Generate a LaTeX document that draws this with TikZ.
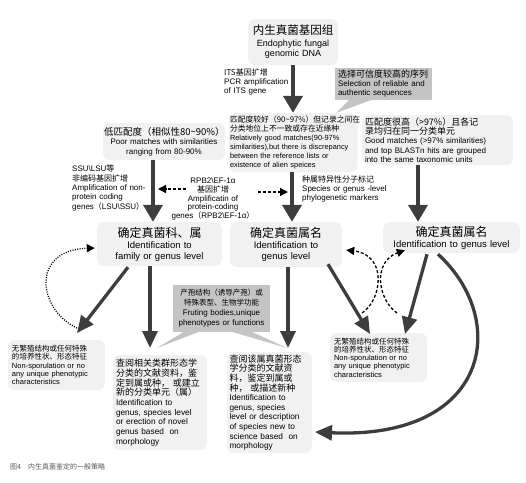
\documentclass[tikz,border=0pt]{standalone}
\usepackage{fontspec}
\setmainfont{Liberation Sans}
\newfontfamily\zhfont{Noto Sans CJK SC}
\usetikzlibrary{arrows.meta,calc}
\definecolor{boxfill}{HTML}{F1F1F1}
\definecolor{callfill}{HTML}{C4C4C4}
\definecolor{arr}{HTML}{3D3D3D}
\newcommand\fsz[2]{\fontsize{#1}{#2}\selectfont}
\hyphenpenalty=10000
\exhyphenpenalty=10000
\begin{document}
\begin{tikzpicture}[x=1pt,y=-1pt,
  box/.style={fill=boxfill, rounded corners=7pt, inner sep=0pt},
  callbox/.style={fill=callfill, inner sep=0pt},
  lbl/.style={inner sep=0pt, anchor=north west, align=left},
  bigarrow/.style={draw=arr, line width=4pt, -{Triangle[length=17pt,width=19pt]}},
  midarrow/.style={draw=arr, line width=3.3pt, -{Triangle[length=17pt,width=15pt]}},
  dasharrow/.style={draw=black, line width=1.3pt, dash pattern=on 3pt off 2pt, -{Triangle[length=8pt,width=8pt]}},
  dotarrow/.style={draw=black, line width=1.3pt, dash pattern=on 1pt off 1.4pt, -{Triangle[length=8pt,width=8pt]}}
]
\useasboundingbox (0,0) rectangle (526,482);

% top box
\node[box, minimum width=90, minimum height=46, text width=88, align=center, font=\fsz{9}{10}] (top) at (293,42)
  {{\zhfont\fsz{11.5}{12}内生真菌基因组}\\[2pt]Endophytic fungal\\genomic DNA};
\node[lbl, text width=75, font=\fsz{8}{9}] (its) at (224,69)
  {{\zhfont ITS基因扩增}\\PCR amplification\\of ITS gene};
% selection callout
\fill[callfill] (350,99) -- (374,99) -- (336,113) -- cycle;
\node[callbox, minimum width=97, minimum height=32, text width=91, align=left, font=\fsz{8}{9}] (sel) at (383.5,84)
  {{\zhfont\fsz{9}{10}选择可信度较高的序列}\\Selection of reliable and\\authentic sequences};

% three match boxes
\node[box, minimum width=122, minimum height=37, text width=120, align=center, font=\fsz{8}{9.5}] (low) at (164,141.5)
  {{\zhfont\fsz{9.5}{10}低匹配度（相似性80\textasciitilde90\%）}\\Poor matches with similarities\\ranging from 80-90\%};
\node[box, minimum width=129, minimum height=59, text width=126, align=left, font=\fsz{7.4}{8.9}] (mid) at (293,142.5)
  {{\zhfont\fsz{7.8}{8.9}匹配度较好（90\textasciitilde97\%）但记录之间在}\\{\zhfont\fsz{7.8}{8.9}分类地位上不一致或存在近缘种}\\Relatively good matches(90-97\%\\similarities),but there is discrepancy\\between the reference lists or\\existence of alien speices};
\node[box, minimum width=151, minimum height=50, text width=145, align=left, font=\fsz{8}{9.2}] (high) at (437.5,140)
  {{\zhfont\fsz{9}{10}匹配度很高（>97\%）且各记}\\{\zhfont\fsz{9}{10}录均归在同一分类单元}\\Good matches (>97\% similarities)\\and top BLASTn hits are grouped\\into the same taxonomic units};

% identification boxes
\node[box, minimum width=125, minimum height=44, text width=123, align=center, font=\fsz{9.5}{11}] (famid) at (159.5,244)
  {{\zhfont\fsz{12}{12}确定真菌科、属}\\Identification to\\family or genus level};
\node[box, minimum width=112, minimum height=45, text width=110, align=center, font=\fsz{9.5}{11}] (genid) at (286,244.5)
  {{\zhfont\fsz{12}{12}确定真菌属名}\\Identification to\\genus level};
\node[box, minimum width=137, minimum height=31, text width=135, align=center, font=\fsz{9.5}{11}] (rgenid) at (451.5,237.5)
  {{\zhfont\fsz{12}{12}确定真菌属名}\\Identification to genus level};

% labels on arrows
\node[lbl, text width=82, font=\fsz{8}{9.3}] (ssu) at (72,165)
  {SSU\textbackslash LSU{\zhfont 等}\\{\zhfont 非编码基因扩增}\\Amplification of non-\\protein coding\\genes{\zhfont （}LSU\textbackslash SSU{\zhfont ）}};
\node[inner sep=0pt, text width=92, align=center, font=\fsz{8}{8.6}] (rpb) at (213,199)
  {RPB2\textbackslash EF-1α\\{\zhfont 基因扩增}\\Amplificatin of\\protein-coding\\genes{\zhfont （}RPB2\textbackslash EF-1α{\zhfont ）}};
\node[lbl, text width=90, font=\fsz{8}{8.8}] (spl) at (302,176)
  {{\zhfont 种属特异性分子标记}\\Species or genus -level\\phylogenetic markers};

% bottom callout
\fill[callfill] (185,331) -- (201,331) -- (157,348) -- cycle;
\fill[callfill] (229,331) -- (250,331) -- (287,348) -- cycle;
\node[callbox, minimum width=97, minimum height=47, text width=95, align=center, font=\fsz{8}{10}] (fb) at (221.5,308.5)
  {{\zhfont\fsz{7.5}{10}产孢结构（诱导产孢）或}\\{\zhfont\fsz{7.5}{10}特殊表型、生物学功能}\\Fruting bodies,unique\\phenotypes or functions};

% lower boxes
\node[box, minimum width=97, minimum height=50, text width=89, align=left, font=\fsz{7.5}{8.2}] (lnosp) at (56.5,365)
  {{\zhfont 无繁殖结构或任何特殊}\\{\zhfont 的培养性状、形态特征}\\Non-sporulation or no\\any unique phenotypic\\characteristics};
\node[box, minimum width=94, minimum height=95, text width=88, align=left, font=\fsz{8.3}{9.7}] (lref) at (160,402.5)
  {{\zhfont\fsz{9}{9}查阅相关类群形态学}\\{\zhfont\fsz{9}{9}分类的文献资料，鉴}\\{\zhfont\fsz{9}{9}定到属或种，\ 或建立}\\{\zhfont\fsz{9}{9}新的分类单元（属）}\\Identification to\\genus, species level\\or erection of novel\\genus based\ \ on\\morphology};
\node[box, minimum width=85, minimum height=101, text width=80, align=left, font=\fsz{8.3}{9.6}] (mref) at (269.5,402.5)
  {{\zhfont\fsz{9}{9}查阅该属真菌形态}\\{\zhfont\fsz{9}{9}学分类的文献资}\\{\zhfont\fsz{9}{9}料，鉴定到属或}\\{\zhfont\fsz{9}{9}种，\ 或描述新种}\\Identification to\\genus, species\\level or description\\of species new to\\science based\ \ on\\morphology};
\node[box, minimum width=97, minimum height=49, text width=89, align=left, font=\fsz{7.5}{8.2}] (rnosp) at (378.5,357.5)
  {{\zhfont 无繁殖结构或任何特殊}\\{\zhfont 的培养性状、形态特征}\\Non-sporulation or no\\any unique phenotypic\\characteristics};

% caption
\node[lbl, font=\fsz{7}{8}, text=black!65] (cap) at (10,463) {{\zhfont 图4\quad 内生真菌鉴定的一般策略}};

% main arrows
\draw[bigarrow] (top.south) -- (mid.north);
\draw[bigarrow] ($(low.south)+(-11,0)$) -- ($(famid.north)+(-6.5,0)$);
\draw[bigarrow] ($(mid.south)+(-1,0)$) -- ($(genid.north)+(6,0)$);
\draw[bigarrow] ($(high.south)+(-19.5,0)$) -- ($(rgenid.north)+(-33.5,0)$);

% dashed arrows to shafts
\coordinate (shL) at (158,189);
\coordinate (shM) at (288,192);
\draw[dasharrow] ($(rpb.center)+(-27,-10)$) -- (shL);
\draw[dasharrow] ($(rpb.center)+(45,-7)$) -- (shM);

% lower arrows
\coordinate (e1) at (77,333);
\coordinate (e2) at (150,348);
\coordinate (e3) at (288,348);
\coordinate (e4) at (370,334);
\coordinate (e5) at (405,334);
\coordinate (e6) at (315,432);
\draw[midarrow] ($(famid.south)+(-31.5,1)$) -- (e1);
\draw[midarrow] ($(famid.south)+(-9.5,0)$) -- (e2);
\draw[midarrow] ($(genid.south)+(2,0)$) -- (e3);
\draw[midarrow] ($(genid.south)+(42,-3)$) -- (e4);
\draw[midarrow] ($(rgenid.south)+(-24.5,1)$) -- (e5);
\draw[midarrow] ($(rgenid.south)+(-13.5,1)$) .. controls (510,320) and (490,440) .. (e6);

% dotted loop on left
\coordinate (d0) at (77,328);
\draw[dotarrow] (d0) .. controls (38,310) and (30,250) .. ($(famid.west)+(-2,4)$);

% dashed arcs on right
\coordinate (dl) at (362,313);
\coordinate (dr) at (397,313);
\draw[dasharrow] (dl) .. controls (382,300) and (388,255) .. ($(genid.east)+(4,5.5)$);
\draw[dasharrow] (dr) .. controls (378,300) and (372,262) .. ($(rgenid.south west)+(22,-3)$);
\end{tikzpicture}
\end{document}
